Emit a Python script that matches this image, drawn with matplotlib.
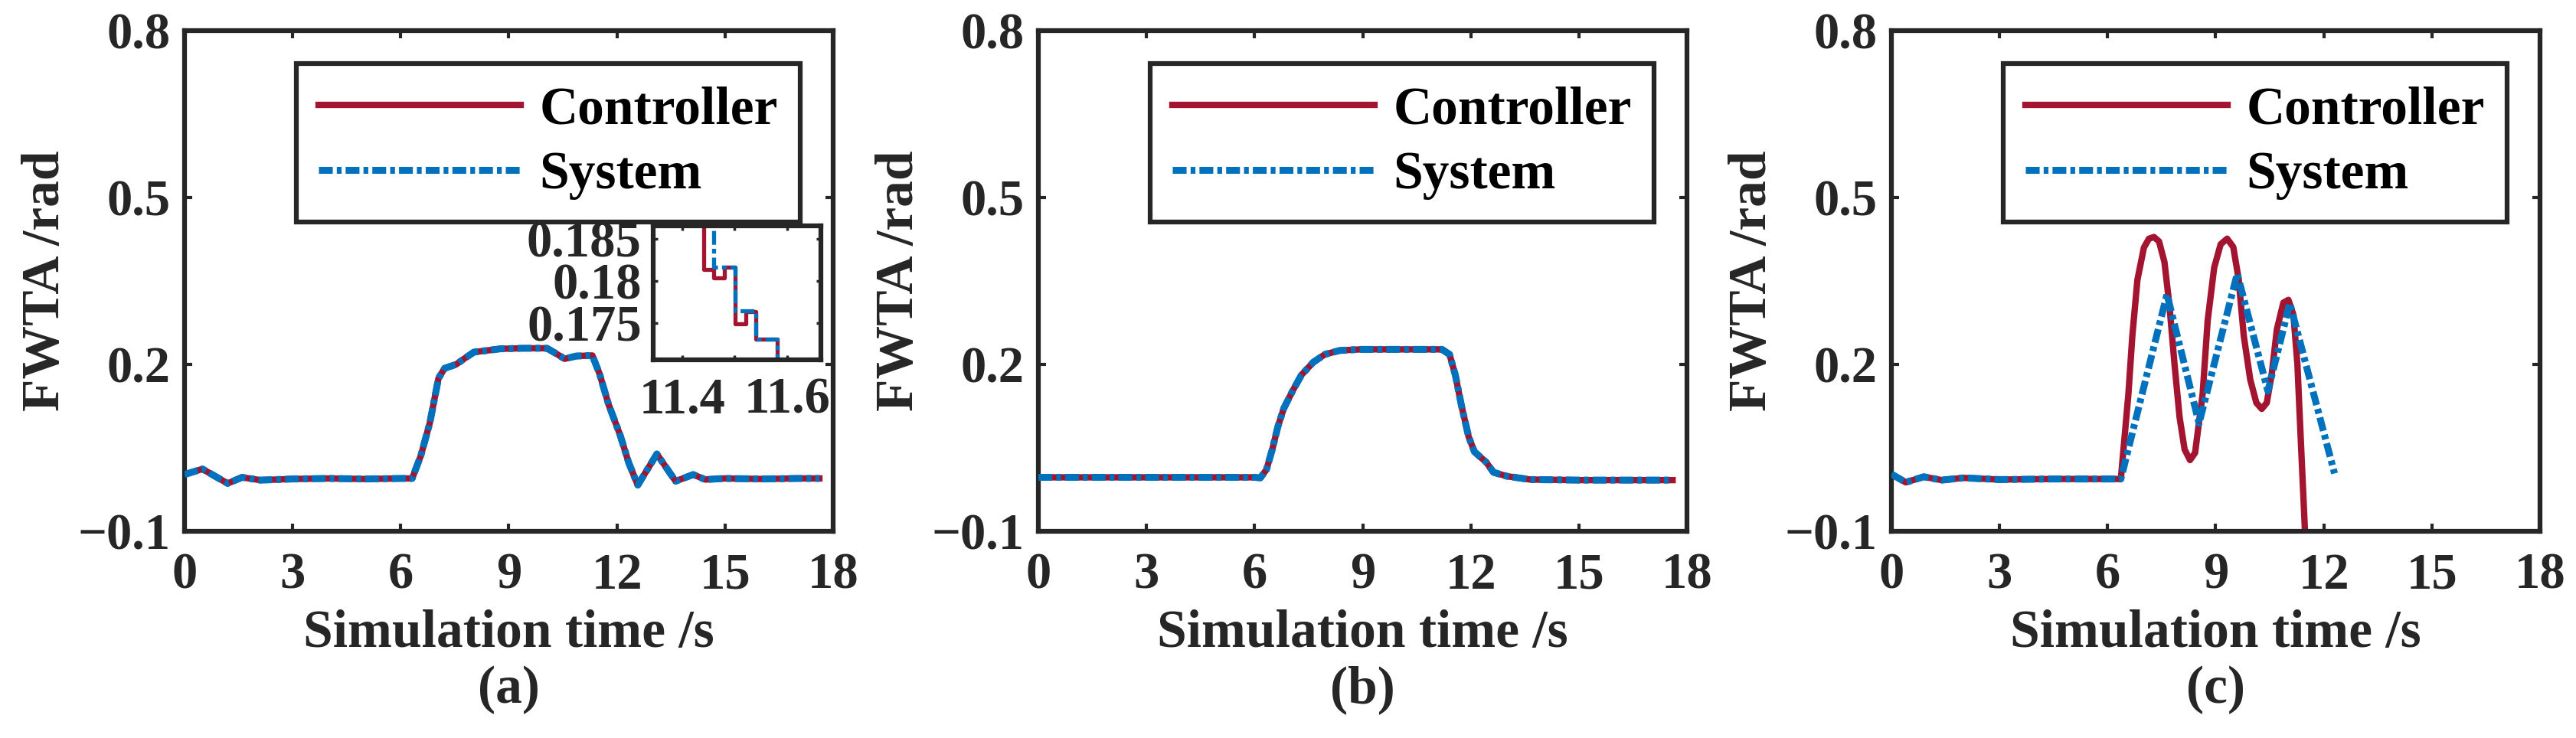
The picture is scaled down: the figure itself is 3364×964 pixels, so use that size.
import matplotlib
matplotlib.use("Agg")
import matplotlib.pyplot as plt

plt.rcParams["font.family"] = ["Liberation Serif", "DejaVu Serif"]
plt.rcParams["font.weight"] = "bold"
plt.rcParams["axes.labelweight"] = "bold"
plt.rcParams["lines.scale_dashes"] = False

# panel (a): normal case, controller and system overlap
t_a = [0, 0.5, 1.2, 1.6, 2.1, 3, 4, 5, 6, 6.32, 6.56, 6.81, 7.05, 7.22, 7.54, 7.78,
       8.03, 8.76, 9.4, 10.06, 10.3, 10.55, 10.87, 11.32, 11.52, 11.77, 12.09, 12.33,
       12.58, 13.11, 13.63, 14.12, 14.45, 15, 16, 17, 17.62]
ctrl_a = [0.002, 0.012, -0.014, -0.003, -0.008, -0.006, -0.005, -0.006, -0.005, -0.005,
          0.036, 0.095, 0.175, 0.193, 0.2, 0.211, 0.222, 0.228, 0.229, 0.229, 0.22, 0.21,
          0.215, 0.216, 0.183, 0.128, 0.073, 0.023, -0.017, 0.039, -0.01, 0.002, -0.007,
          -0.005, -0.006, -0.005, -0.005]
sys_a = ctrl_a

# inset of (a), sampled every 0.02 s
ins_t_ctrl = [11.30, 11.441, 11.461, 11.481, 11.501, 11.521, 11.541, 11.581, 11.70]
ins_ctrl = [0.195, 0.1813, 0.1803, 0.1816, 0.1749, 0.1763, 0.1731, 0.165, 0.165]
ins_t_sys = [11.30, 11.461, 11.501, 11.541, 11.581, 11.70]
ins_sys = [0.195, 0.1816, 0.1764, 0.1731, 0.165, 0.165]

# panel (b)
t_b = [0, 3, 6.0, 6.16, 6.33, 6.49, 6.65, 6.81, 7.06, 7.3, 7.63, 7.95, 8.36, 8.93, 10,
       11.2, 11.41, 11.57, 11.74, 11.94, 12.1, 12.43, 12.63, 13.0, 13.65, 15, 17.6]
ctrl_b = [-0.003, -0.003, -0.003, -0.004, 0.011, 0.047, 0.089, 0.121, 0.153, 0.181, 0.204,
          0.218, 0.225, 0.227, 0.227, 0.227, 0.218, 0.181, 0.126, 0.07, 0.043, 0.024,
          0.006, -0.001, -0.007, -0.008, -0.008]
sys_b = ctrl_b

# panel (c): controller oscillates, system saturates
t_c_ctrl = [0, 0.4, 0.9, 1.4, 2.0, 3, 4.5, 6.37, 6.58, 6.69, 6.83, 7.01, 7.15, 7.29, 7.43,
            7.58, 7.72, 7.86, 8.0, 8.14, 8.29, 8.43, 8.64, 8.78, 8.96, 9.14, 9.32, 9.49,
            9.64, 9.78, 9.96, 10.13, 10.28, 10.42, 10.56, 10.7, 10.88, 11.02, 11.16, 11.27,
            11.38, 11.48, 11.55]
ctrl_c = [0.003, -0.012, -0.002, -0.008, -0.004, -0.007, -0.006, -0.006, 0.147, 0.252,
          0.352, 0.41, 0.426, 0.429, 0.421, 0.384, 0.305, 0.2, 0.105, 0.047, 0.028, 0.041,
          0.147, 0.279, 0.374, 0.416, 0.426, 0.411, 0.353, 0.252, 0.173, 0.131, 0.12, 0.131,
          0.184, 0.263, 0.311, 0.316, 0.289, 0.2, 0.041, -0.1, -0.16]
t_c_sys = [0, 0.4, 0.9, 1.4, 2.0, 3, 4.5, 6.37, 7.65, 8.54, 9.6, 10.45, 11.06, 12.3]
sys_c = [0.003, -0.012, -0.002, -0.008, -0.004, -0.007, -0.006, -0.006, 0.326, 0.094,
         0.363, 0.152, 0.31, 0.004]

x_ticks = [0, 3, 6, 9, 12, 15, 18]
y_ticks = [-0.1, 0.2, 0.5, 0.8]
y_ticklabels = ["\u22120.1", "0.2", "0.5", "0.8"]

red = "#A2142F"
blue = "#0072BD"
dark = "#262626"
dashdot = (0, (13, 3.8, 4.5, 3.8))
FS = 48
LFS = 50

fig = plt.figure(figsize=(33.64, 9.64), dpi=100)

lefts = [0.0716, 0.4031, 0.7342]
panels = [
    (t_a, ctrl_a, t_a, sys_a, "(a)"),
    (t_b, ctrl_b, t_b, sys_b, "(b)"),
    (t_c_ctrl, ctrl_c, t_c_sys, sys_c, "(c)"),
]


def style_axes(ax, lw, tlen, twidth, pad_x, pad_y):
    for sp in ax.spines.values():
        sp.set_linewidth(lw)
        sp.set_color(dark)
    ax.tick_params(axis="both", direction="in", top=True, right=True,
                   length=tlen, width=twidth, color=dark, labelcolor=dark,
                   labelsize=FS)
    ax.tick_params(axis="x", pad=pad_x)
    ax.tick_params(axis="y", pad=pad_y)


for left, (tc, yc, ts, ys, tag) in zip(lefts, panels):
    ax = fig.add_axes([left, 0.2801, 0.2518, 0.6784])
    ax.plot(tc, yc, color=red, linewidth=6, label="Controller", zorder=2)
    ax.plot(ts, ys, color=blue, linewidth=6.5, linestyle=dashdot, label="System", zorder=3)
    ax.set_xlim(0, 18)
    ax.set_ylim(-0.1, 0.8)
    ax.set_xticks(x_ticks)
    ax.set_yticks(y_ticks)
    ax.set_yticklabels(y_ticklabels)
    style_axes(ax, 4.5, 7.5, 3, 20, 13)

    ax.set_xlabel("Simulation time /s", fontsize=LFS, color=dark, va="center")
    ax.xaxis.set_label_coords(0.5, -0.205)
    ax.set_ylabel("FWTA /rad", fontsize=LFS, color=dark, va="center")
    ax.yaxis.set_label_coords(-0.214, 0.5)
    ax.text(0.5, -0.317, tag, transform=ax.transAxes, ha="center", va="center",
            fontsize=LFS, color=dark)

    leg = ax.legend(loc="upper right", bbox_to_anchor=(0.949, 0.934), borderaxespad=0,
                    fontsize=LFS, handlelength=3.8, handletextpad=0.35,
                    labelspacing=0.3, borderpad=0.42, fancybox=False, framealpha=1)
    leg.get_frame().set_linewidth(4.5)
    leg.get_frame().set_edgecolor(dark)
    for txt in leg.get_texts():
        txt.set_color("black")

    if tag == "(a)":
        ins = fig.add_axes([0.2536, 0.5124, 0.0651, 0.1815])
        ins.step(ins_t_ctrl, ins_ctrl, where="post", color=red, linewidth=3.8)
        ins.step(ins_t_sys, ins_sys, where="post", color=blue, linewidth=3.8,
                 linestyle=dashdot)
        ins.set_xlim(11.345, 11.665)
        ins.set_ylim(0.1706, 0.1865)
        ins.set_xticks([11.4, 11.5, 11.6])
        ins.set_xticklabels(["11.4", "", "11.6"])
        ins.set_yticks([0.175, 0.18, 0.185])
        ins.set_yticklabels(["0.175", "0.18", "0.185"])
        style_axes(ins, 4.5, 4, 2.5, 16, 11)

fig.savefig("out.png", dpi=100)
